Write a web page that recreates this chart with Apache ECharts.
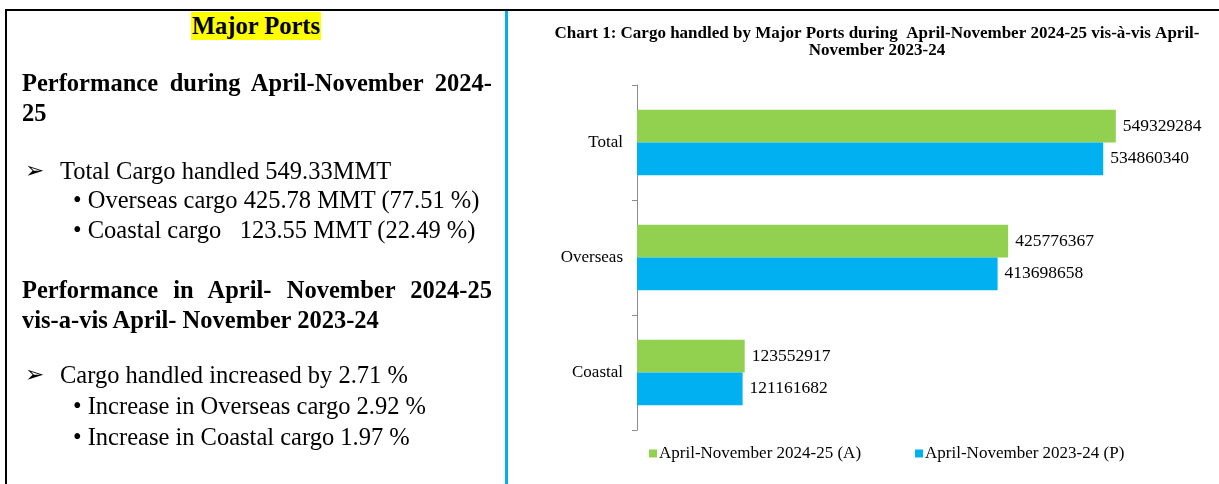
<!DOCTYPE html>
<html>
<head>
<meta charset="utf-8">
<script src="https://cdn.jsdelivr.net/npm/echarts@6/dist/echarts.min.js"></script>
<style>
  html, body { margin:0; padding:0; background:#fff; }
  #wrap { position:relative; width:1219px; height:484px; overflow:hidden; background:#fff; }
  #chart { position:absolute; left:0; top:0; width:1219px; height:484px; }
  .ln { position:absolute; white-space:nowrap; font-family:"Liberation Serif","Times New Roman",serif; font-size:24.5px; line-height:30px; height:30px; color:#000; }
  .b { font-weight:bold; }
  .just { text-align:justify; text-align-last:justify; }
  .arrow { position:absolute; font-family:"DejaVu Sans",sans-serif; font-size:23px; line-height:30px; height:30px; color:#000; }
</style>
</head>
<body>
<div id="wrap">
  <div id="chart"></div>
  <div style="position:absolute;left:5px;top:9px;width:1214px;height:2px;background:#000;"></div>
  <div style="position:absolute;left:5px;top:9px;width:2px;height:475px;background:#000;"></div>
  <div style="position:absolute;left:505px;top:11px;width:3px;height:473px;background:#00B0F0;"></div>
  <div id="left"></div>
</div>
<script>
// ---- data ----
const categories = ['Total', 'Overseas', 'Coastal'];
const seriesNames = ['April-November 2024-25 (A)', 'April-November 2023-24 (P)'];
const cargo2024 = [549329284, 425776367, 123552917];
const cargo2023 = [534860340, 413698658, 121161682];
const titleLines = ['Chart 1: Cargo handled by Major Ports during  April-November 2024-25 vis-\u00e0-vis April-', 'November 2023-24'];

const heading = 'Major Ports';
const perfHeading = ['Performance during April-November 2024-', '25'];
const perfArrow = 'Total Cargo handled 549.33MMT';
const perfBullets = ['Overseas cargo 425.78 MMT (77.51 %)', 'Coastal cargo \u00a0\u00a0123.55 MMT (22.49 %)'];
const cmpHeading = ['Performance in April- November 2024-25', 'vis-a-vis April- November 2023-24'];
const cmpArrow = 'Cargo handled increased by 2.71 %';
const cmpBullets = ['Increase in Overseas cargo 2.92 %', 'Increase in Coastal cargo 1.97 %'];

// ---- left text panel ----
const left = document.getElementById('left');
function addLine(text, x, cy, cls, width) {
  const d = document.createElement('div');
  d.className = 'ln ' + (cls || '');
  d.style.left = x + 'px';
  d.style.top = (cy - 15) + 'px';
  if (width) d.style.width = width + 'px';
  d.textContent = text;
  left.appendChild(d);
  return d;
}
function addArrow(x, cy) {
  const d = document.createElement('div');
  d.className = 'arrow';
  d.style.left = x + 'px';
  d.style.top = (cy - 16) + 'px';
  d.textContent = '\u27a2';
  left.appendChild(d);
}
(function(){
  const d = document.createElement('div');
  d.className = 'ln b';
  d.style.left = '7px'; d.style.width = '498px'; d.style.top = '11px';
  d.style.textAlign = 'center';
  d.innerHTML = '<span style="background:#FFFF00;padding:0 1px;line-height:28px;display:inline-block;">' + heading + '</span>';
  left.appendChild(d);
})();
addLine(perfHeading[0], 22, 83, 'b just', 470);
addLine(perfHeading[1], 22, 113, 'b');
addArrow(25, 171);
addLine(perfArrow, 60, 171);
addLine('\u2022 ' + perfBullets[0], 73, 200);
addLine('\u2022 ' + perfBullets[1], 73, 230);
addLine(cmpHeading[0], 22, 290, 'b just', 470);
addLine(cmpHeading[1], 22, 320, 'b');
addArrow(25, 375);
addLine(cmpArrow, 60, 375);
addLine('\u2022 ' + cmpBullets[0], 73, 406);
addLine('\u2022 ' + cmpBullets[1], 73, 437);

// ---- chart ----
const serif = '"Liberation Serif","Times New Roman",serif';
const chart = echarts.init(document.getElementById('chart'), null, { renderer: 'canvas' });
const labelCfg = {
  show: true, position: 'right', distance: 7,
  color: '#000', fontFamily: serif, fontSize: 17.5,
  formatter: p => String(p.value)
};
chart.setOption({
  animation: false,
  backgroundColor: 'transparent',
  graphic: [{
    type: 'text', x: 877, y: 25,
    style: {
      text: titleLines.join('\n'), textAlign: 'center', textVerticalAlign: 'top',
      font: 'bold 17px ' + serif, fill: '#000', lineHeight: 17
    }
  }],
  legend: {
    left: 644, top: 440, itemWidth: 8, itemHeight: 8, itemGap: 54,
    icon: 'rect',
    textStyle: { fontFamily: serif, fontSize: 17, color: '#000', padding: [0, 0, 0, -3] },
    data: seriesNames
  },
  grid: { left: 637, top: 85, right: 59, bottom: 54, containLabel: false },
  xAxis: {
    type: 'value', min: 0, max: 600000000, show: false,
    splitLine: { show: false }
  },
  yAxis: {
    type: 'category', data: categories, inverse: true,
    axisLine: { show: true, lineStyle: { color: '#8c8c8c', width: 1 } },
    axisTick: { show: true, length: 5, lineStyle: { color: '#8c8c8c' } },
    axisLabel: { color: '#000', fontFamily: serif, fontSize: 17, margin: 14, padding: [4, 0, 0, 0] }
  },
  series: [
    { name: seriesNames[0], type: 'bar', data: cargo2024, barGap: '0%', barCategoryGap: '43%',
      itemStyle: { color: '#92D050' }, label: labelCfg },
    { name: seriesNames[1], type: 'bar', data: cargo2023, barGap: '0%', barCategoryGap: '43%',
      itemStyle: { color: '#00B0F0' }, label: labelCfg }
  ]
});
</script>
</body>
</html>
